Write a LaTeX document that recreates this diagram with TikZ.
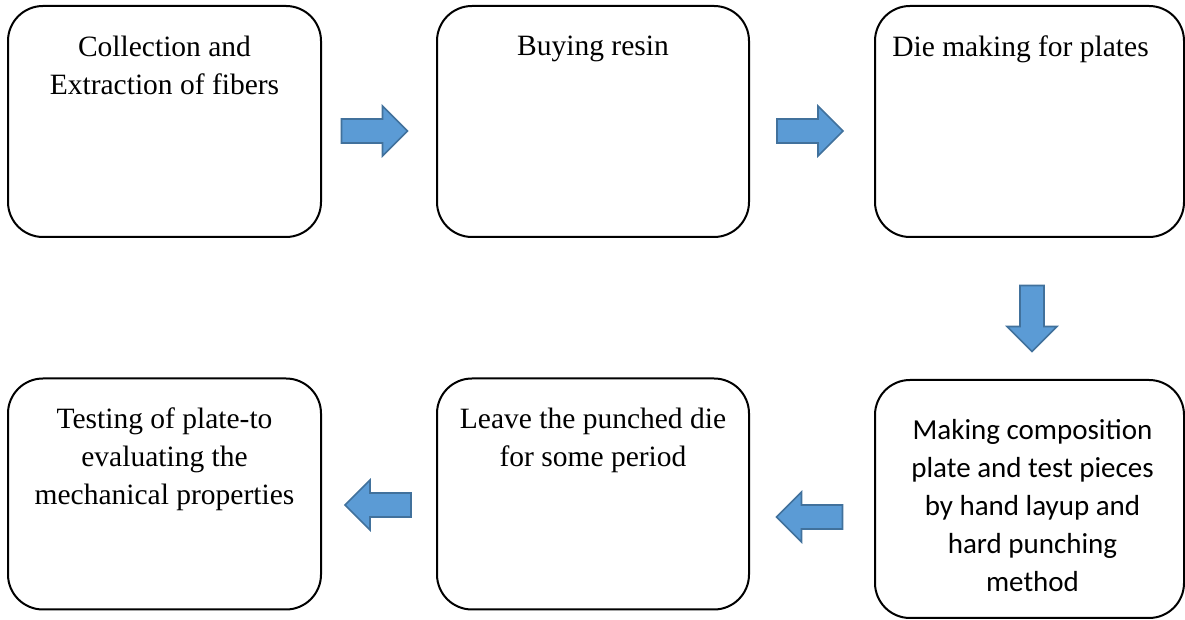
\documentclass[tikz,border=0pt]{standalone}
\usepackage{fontspec}
\setmainfont{Liberation Serif}
\newfontfamily\calibrifont{Carlito}
\usetikzlibrary{positioning,calc}
\definecolor{arrowblue}{HTML}{5B9BD5}
\definecolor{arrowedge}{HTML}{41719C}
\tikzset{
  stepbox/.style={draw, line width=2pt, rounded corners=35pt, minimum width=313pt, minimum height=231pt, inner sep=0pt},
  steptext/.style={inner sep=0pt, align=center, font=\fontsize{29.5}{38}\selectfont},
  blockarrow/.pic={\draw[fill=arrowblue, draw=arrowedge, line width=1.6pt, line join=miter] (-33,-12) -- (8,-12) -- (8,-25) -- (33,0) -- (8,25) -- (8,12) -- (-33,12) -- cycle;}
}

\begin{document}
\begin{tikzpicture}[x=1pt, y=1pt]
\useasboundingbox (0,0) rectangle (1185,620);

\node[stepbox] (b1) at (164.5,498.5) {};
\node[stepbox, minimum width=312pt] (b2) at (593,498.5) {};
\node[stepbox, minimum width=309pt] (b3) at (1029.5,498.5) {};
\node[stepbox] (b4) at (164.5,126) {};
\node[stepbox, minimum width=312pt] (b5) at (593,126) {};
\node[stepbox, minimum width=309pt, minimum height=238pt] (b6) at (1029.5,121) {};

\node[steptext, below=31pt of b1.north] (t1) {Collection and\\Extraction of fibers};
\node[steptext, below=31pt of b2.north] (t2) {Buying resin};
\node[steptext, below=31pt of b3.north, xshift=-9pt] (t3) {Die making for plates};
\node[steptext, below=30pt of b4.north] (t4) {Testing of plate-to\\evaluating the\\mechanical properties};
\node[steptext, below=30pt of b5.north] (t5) {Leave the punched die\\for some period};
\node[steptext, font=\calibrifont\fontsize{29}{38}\selectfont, below=40pt of b6.north, xshift=3pt] (t6) {Making composition\\plate and test pieces\\by hand layup and\\hard punching\\method};

\pic at ($(b1.east)!.5!(b2.west)+(-4.5,-9.5)$) {blockarrow};
\pic at ($(b2.east)!.5!(b3.west)+(-2,-9.5)$) {blockarrow};
\pic[rotate=-90] at ($(b3.south)!.5!(b6.north)+(2.5,-10)$) {blockarrow};
\pic[rotate=180] at ($(b5.east)!.5!(b6.west)+(-2.5,-20.5)$) {blockarrow};
\pic[rotate=180] at ($(b4.east)!.5!(b5.west)+(-1,-11)$) {blockarrow};
\end{tikzpicture}
\end{document}
